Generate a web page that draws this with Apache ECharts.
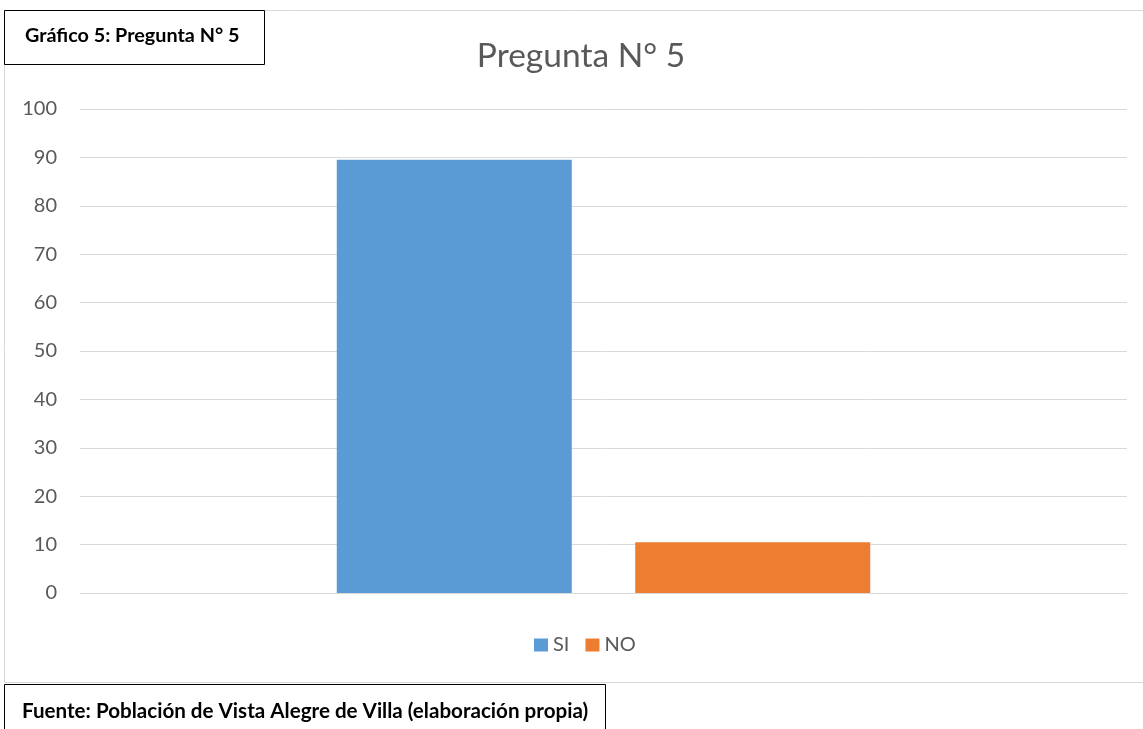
<!DOCTYPE html>
<html>
<head>
<meta charset="utf-8">
<script src="https://cdn.jsdelivr.net/npm/echarts@6/dist/echarts.min.js"></script>
<style>
  html, body { margin: 0; padding: 0; background: #fff; }
  #chart { width: 1143px; height: 729px; }
</style>
</head>
<body>
<div id="chart"></div>
<script>
// Survey answers for question 5 (percent of respondents)
const categories = ['Pregunta N° 5'];
const seriesNames = ['SI', 'NO'];
const siValues = [89.5];
const noValues = [10.5];
const yTicks = { min: 0, max: 100, interval: 10 };

const chartTitle = 'Pregunta N° 5';
const headerText = 'Gráfico 5: Pregunta N° 5';
const sourceText = 'Fuente: Población de Vista Alegre de Villa (elaboración propia)';

const chart = echarts.init(document.getElementById('chart'), null, { renderer: 'canvas' });
const textFont = 'Lato, "Open Sans", "Liberation Sans", sans-serif';

chart.setOption({
  backgroundColor: '#ffffff',
  animation: false,
  textStyle: { fontFamily: textFont },
  legend: {
    data: seriesNames,
    left: 529,
    top: 630,
    itemWidth: 14,
    itemHeight: 13,
    itemGap: 16,
    icon: 'rect',
    textStyle: { fontSize: 20, color: '#595959', fontFamily: textFont }
  },
  grid: { left: 80, right: 16, top: 109, bottom: 136, containLabel: false },
  xAxis: {
    type: 'category',
    data: categories,
    axisLine: { show: true, lineStyle: { color: '#d9d9d9', width: 1 } },
    axisTick: { show: false },
    axisLabel: { show: false }
  },
  yAxis: {
    type: 'value',
    min: yTicks.min,
    max: yTicks.max,
    interval: yTicks.interval,
    axisLine: { show: false },
    axisTick: { show: false },
    axisLabel: { fontSize: 20, color: '#595959', margin: 23, fontFamily: textFont },
    splitLine: { lineStyle: { color: '#d9d9d9', width: 1 } }
  },
  series: [
    {
      name: seriesNames[0],
      type: 'bar',
      data: siValues,
      barWidth: 235,
      barGap: '27%',
      itemStyle: { color: '#5b9bd5' }
    },
    {
      name: seriesNames[1],
      type: 'bar',
      data: noValues,
      barWidth: 235,
      itemStyle: { color: '#ed7d31' }
    }
  ],
  graphic: [
    // light frame around the chart area
    {
      type: 'rect',
      shape: { x: 4.5, y: 10.5, width: 1150, height: 672 },
      style: { fill: null, stroke: '#d9d9d9', lineWidth: 1 },
      z: 0
    },
    // chart title
    {
      type: 'text',
      x: 581,
      y: 56,
      style: {
        text: chartTitle, font: '33.5px ' + textFont, fill: '#595959',
        textAlign: 'center', textVerticalAlign: 'middle'
      },
      z: 5
    },
    // header label box
    {
      type: 'rect',
      shape: { x: 4.5, y: 10.5, width: 260, height: 54 },
      style: { fill: '#ffffff', stroke: '#000000', lineWidth: 1 },
      z: 10
    },
    {
      type: 'text',
      x: 25,
      y: 36,
      style: {
        text: headerText, font: 'bold 19.8px ' + textFont, fill: '#000000',
        textVerticalAlign: 'middle'
      },
      z: 11
    },
    // source label box
    {
      type: 'rect',
      shape: { x: 4.5, y: 684.5, width: 601, height: 60 },
      style: { fill: '#ffffff', stroke: '#000000', lineWidth: 1 },
      z: 10
    },
    {
      type: 'text',
      x: 22,
      y: 711,
      style: {
        text: sourceText, font: 'bold 20.6px ' + textFont, fill: '#000000',
        textVerticalAlign: 'middle'
      },
      z: 11
    }
  ]
});
</script>
</body>
</html>
